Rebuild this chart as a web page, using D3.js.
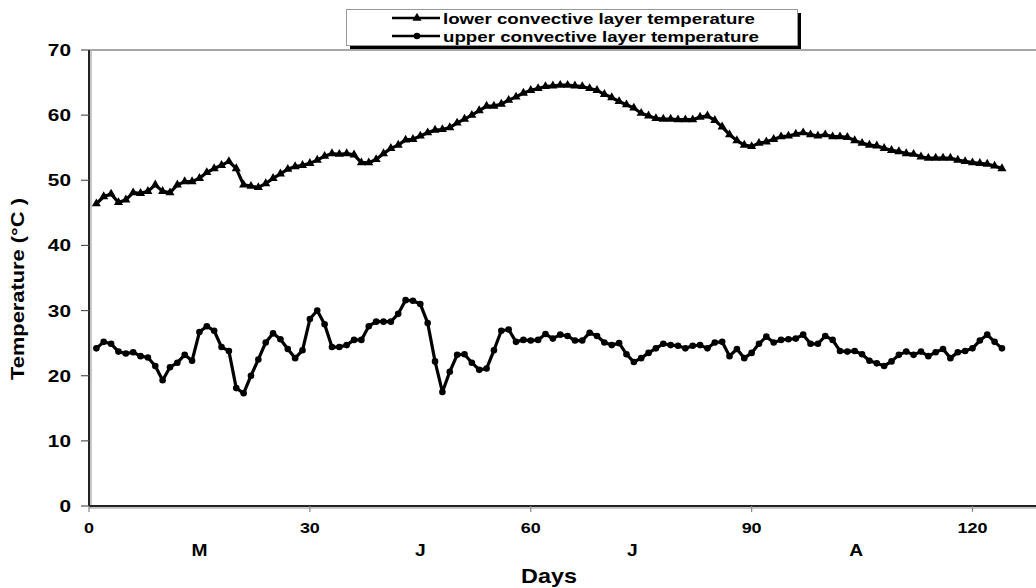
<!DOCTYPE html>
<html><head><meta charset="utf-8">
<script src="https://cdn.jsdelivr.net/npm/d3@7"></script>
<style>
html,body{margin:0;padding:0;background:#fff;}
svg text{font-family:"Liberation Sans",Arial,sans-serif;font-weight:bold;fill:#000;}
</style></head>
<body>
<svg id="chart" width="1036" height="588"></svg>
<script>
// ---- data ----
const days = d3.range(1, 125);
const lowerLayer = [
46.4,47.5,47.9,46.6,47.0,48.1,48.0,48.3,49.3,48.3,48.1,49.3,49.8,49.8,50.3,51.2,51.8,52.3,52.9,51.8,
49.3,49.1,48.9,49.5,50.3,51.0,51.7,52.1,52.3,52.6,53.1,53.7,54.1,54.0,54.1,53.9,52.7,52.7,53.2,54.1,
54.9,55.4,56.2,56.3,56.8,57.3,57.7,57.8,58.1,58.8,59.4,60.0,60.7,61.4,61.4,61.7,62.3,62.8,63.4,63.8,
64.1,64.4,64.5,64.6,64.6,64.5,64.4,64.1,63.8,63.2,62.7,62.1,61.6,61.1,60.3,59.9,59.5,59.4,59.4,59.3,
59.3,59.3,59.7,59.9,59.2,58.2,57.0,56.1,55.4,55.2,55.7,55.9,56.3,56.7,56.8,57.1,57.3,57.0,56.8,57.0,
56.7,56.7,56.6,56.1,55.7,55.4,55.3,54.9,54.6,54.4,54.1,54.0,53.6,53.4,53.4,53.4,53.4,53.1,52.9,52.7,
52.6,52.5,52.2,51.8];
const upperLayer = [
24.2,25.2,24.9,23.7,23.4,23.6,23.0,22.8,21.5,19.3,21.3,22.0,23.2,22.3,26.7,27.6,26.9,24.4,23.8,18.1,
17.3,20.0,22.5,25.1,26.5,25.6,24.1,22.7,23.9,28.7,30.0,27.9,24.4,24.4,24.7,25.5,25.5,27.6,28.3,28.3,
28.3,29.5,31.6,31.5,31.0,28.1,22.2,17.5,20.6,23.2,23.3,22.0,20.9,21.1,23.9,26.9,27.1,25.2,25.5,25.4,
25.5,26.4,25.7,26.3,26.1,25.4,25.4,26.6,26.1,25.1,24.7,25.0,23.3,22.1,22.7,23.5,24.2,24.9,24.7,24.6,
24.2,24.6,24.7,24.2,25.1,25.2,23.0,24.1,22.7,23.5,24.9,26.0,25.1,25.5,25.6,25.7,26.3,24.9,24.9,26.1,
25.5,23.8,23.7,23.8,23.3,22.3,21.9,21.5,22.2,23.2,23.7,23.2,23.7,23.0,23.6,24.1,22.7,23.6,23.8,24.2,
25.4,26.3,25.2,24.2];
const xTicks = [0, 30, 60, 90, 120];
const yTicks = [0, 10, 20, 30, 40, 50, 60, 70];
const monthLabels = ["M", "J", "J", "A"];
const monthPos = [15, 45, 73.8, 104.2];
const seriesNames = ["lower convective layer temperature", "upper convective layer temperature"];
const xTitle = "Days";
const yTitle = "Temperature  (°C )";

// ---- drawing ----
const svg = d3.select("#chart");
const x = d3.scaleLinear().domain([0, 120]).range([89, 972.5]);
const y = d3.scaleLinear().domain([0, 70]).range([506, 50]);
const SX = 1.2;

// frame
svg.append("line").attr("x1", 89).attr("x2", 1036).attr("y1", y(70)).attr("y2", y(70))
  .attr("stroke", "#8a8a8a").attr("stroke-width", 1.5);
svg.append("line").attr("x1", 91).attr("x2", 91).attr("y1", 50).attr("y2", 508).attr("stroke", "#b5b5b5").attr("stroke-width", 1.5);
svg.append("line").attr("x1", 89).attr("x2", 1036).attr("y1", 508).attr("y2", 508).attr("stroke", "#b5b5b5").attr("stroke-width", 1.5);
svg.append("line").attr("x1", 89).attr("x2", 89).attr("y1", 50).attr("y2", 506).attr("stroke", "#222").attr("stroke-width", 2);
svg.append("line").attr("x1", 89).attr("x2", 1036).attr("y1", 506).attr("y2", 506).attr("stroke", "#222").attr("stroke-width", 2);

// y ticks
const yt = svg.append("g");
yTicks.forEach(t => {
  yt.append("line").attr("x1", 81).attr("x2", 89).attr("y1", y(t)).attr("y2", y(t)).attr("stroke", "#555").attr("stroke-width", 1.2);
  yt.append("text").attr("transform", `translate(71,${y(t) + 6}) scale(1.3,1)`)
    .attr("text-anchor", "end").style("font-size", "16px").text(t);
});
// x ticks
const xt = svg.append("g");
xTicks.forEach(t => {
  xt.append("line").attr("x1", x(t)).attr("x2", x(t)).attr("y1", 506).attr("y2", 512).attr("stroke", "#888").attr("stroke-width", 1.2);
  xt.append("text").attr("transform", `translate(${x(t)},533) scale(${SX},1)`)
    .attr("text-anchor", "middle").style("font-size", "15px").text(t);
});
monthLabels.forEach((m, i) => {
  svg.append("text").attr("transform", `translate(${x(monthPos[i])},556) scale(${SX},1)`)
    .attr("text-anchor", "middle").style("font-size", "16px").text(m);
});
svg.append("text").attr("transform", `translate(549,583) scale(1.17,1)`)
  .attr("text-anchor", "middle").style("font-size", "20px").text(xTitle);
svg.append("text").attr("transform", `translate(24,289) rotate(-90)`)
  .attr("text-anchor", "middle").style("font-size", "19px")
  .attr("textLength", 182).attr("lengthAdjust", "spacingAndGlyphs").text(yTitle);

// lines
const lineGen = d3.line().x((d, i) => x(days[i])).y(d => y(d));
const triangle = d3.symbol().type(d3.symbolTriangle).size(36);
function drawSeries(vals, shape) {
  svg.append("path").datum(vals).attr("d", lineGen)
    .attr("fill", "none").attr("stroke", "#000").attr("stroke-width", 3.2).attr("stroke-linejoin", "round");
  const g = svg.append("g");
  if (shape === "tri") {
    g.selectAll("path").data(vals).join("path")
      .attr("d", triangle).attr("transform", (d, i) => `translate(${x(days[i])},${y(d)})`).attr("fill", "#000");
  } else {
    g.selectAll("circle").data(vals).join("circle")
      .attr("cx", (d, i) => x(days[i])).attr("cy", d => y(d)).attr("r", 3.3).attr("fill", "#000");
  }
}
drawSeries(lowerLayer, "tri");
drawSeries(upperLayer, "circ");

// legend
const lg = svg.append("g");
lg.append("rect").attr("x", 350).attr("y", 13).attr("width", 451).attr("height", 36).attr("fill", "#000");
lg.append("rect").attr("x", 346.5).attr("y", 9.5).attr("width", 451).attr("height", 36)
  .attr("fill", "#fff").attr("stroke", "#999").attr("stroke-width", 1);
const rowsY = [18, 36];
seriesNames.forEach((n, i) => {
  lg.append("line").attr("x1", 392).attr("x2", 440).attr("y1", rowsY[i]).attr("y2", rowsY[i])
    .attr("stroke", "#000").attr("stroke-width", 2.5);
  if (i === 0) lg.append("path").attr("d", triangle).attr("transform", `translate(417,${rowsY[i]})`);
  else lg.append("circle").attr("cx", 417).attr("cy", rowsY[i]).attr("r", 3.3);
  lg.append("text").attr("x", 443).attr("y", rowsY[i] + 5.5).style("font-size", "15px")
    .attr("textLength", i === 0 ? 312 : 316).attr("lengthAdjust", "spacingAndGlyphs").text(n);
});
</script>
</body></html>
